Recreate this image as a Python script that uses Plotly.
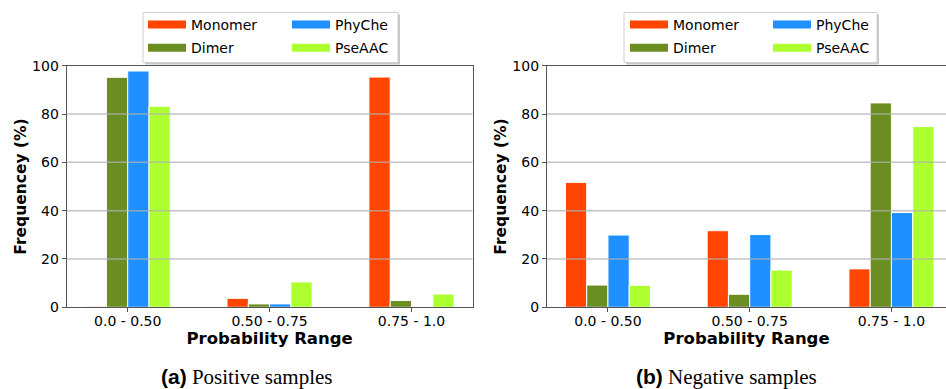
import plotly.graph_objects as go

# ---------------- data ----------------
categories = ["0.0 - 0.50", "0.50 - 0.75", "0.75 - 1.0"]
series_names = ["Monomer", "Dimer", "PhyChe", "PseAAC"]
series_colors = ["#FF4500", "#6B8E23", "#1E90FF", "#ADFF2F"]

pos_monomer = [0.4, 3.7, 95.3]
pos_dimer = [95.2, 1.4, 2.8]
pos_phyche = [97.8, 1.4, 0.0]
pos_pseaac = [83.2, 10.5, 5.5]

neg_monomer = [51.7, 31.7, 15.9]
neg_dimer = [9.2, 5.4, 84.6]
neg_phyche = [29.9, 30.1, 39.2]
neg_pseaac = [9.1, 15.4, 74.8]

y_ticks = [0, 20, 40, 60, 80, 100]
captions = ["Positive samples", "Negative samples"]
caption_tags = ["(a)", "(b)"]

positive = [pos_monomer, pos_dimer, pos_phyche, pos_pseaac]
negative = [neg_monomer, neg_dimer, neg_phyche, neg_pseaac]

# ---------------- figure ----------------
W, H = 946, 389
BAR_W = 0.15
TXT = "#000000"
SPINE = "#555555"
FONT = "DejaVu Sans"

fig = go.Figure()

# legend columns: (Monomer, Dimer) | (PhyChe, PseAAC)
panel_legends = [("legend", "legend", "legend2", "legend2"),
                 ("legend3", "legend3", "legend4", "legend4")]

for p, (panel, xa, ya) in enumerate([(positive, "x", "y"), (negative, "x2", "y2")]):
    for i, (name, col, vals) in enumerate(zip(series_names, series_colors, panel)):
        xs = [g + (i - 1.5) * BAR_W for g in range(len(categories))]
        fig.add_trace(go.Bar(
            x=xs, y=vals, width=BAR_W, name=name,
            marker=dict(color=col, line=dict(color="white", width=1)),
            xaxis=xa, yaxis=ya, showlegend=False, legendgroup=f"p{p}-{name}",
        ))
    # legend entries with wide swatches like the reference
    for i, (name, col) in enumerate(zip(series_names, series_colors)):
        fig.add_trace(go.Scatter(
            x=[None], y=[None], mode="lines", name=name,
            line=dict(color=col, width=8),
            xaxis=xa, yaxis=ya, legend=panel_legends[p][i],
            legendgroup=f"p{p}-{name}", showlegend=True, hoverinfo="skip",
        ))

ydom = [1 - 307.3 / H, 1 - 65.7 / H]
axis_common = dict(
    showline=True, linecolor=SPINE, linewidth=1.2,
    ticks="outside", ticklen=4, tickcolor=SPINE, tickwidth=1,
    tickfont=dict(family=FONT, size=14, color=TXT),
    showgrid=False, zeroline=False, automargin=False,
)
xtitle = dict(text="<b>Probability Range</b>", standoff=0,
              font=dict(family=FONT, size=16.5, color=TXT))
ytitle = dict(text="<b>Frequencey (%)</b>", standoff=1,
              font=dict(family=FONT, size=15.5, color=TXT))

fig.update_layout(
    xaxis=dict(domain=[66.7 / W, 472.5 / W], range=[-0.43, 2.43], mirror=True,
               tickvals=list(range(len(categories))), ticktext=categories,
               ticklabelstandoff=-3, title=xtitle, anchor="y", **axis_common),
    yaxis=dict(domain=ydom, range=[0, 100], mirror=True, tickvals=y_ticks,
               title=ytitle, anchor="x", **axis_common),
    xaxis2=dict(domain=[547 / W, 1.0], range=[-0.43, 2.385], mirror=True,
                tickvals=list(range(len(categories))), ticktext=categories,
                ticklabelstandoff=-3, title=xtitle, anchor="y2", **axis_common),
    yaxis2=dict(domain=ydom, range=[0, 100], mirror=False, tickvals=y_ticks,
                title=ytitle, anchor="x2", **axis_common),
    barmode="overlay",
    width=W, height=H,
    margin=dict(l=0, r=0, t=0, b=0),
    paper_bgcolor="white", plot_bgcolor="white",
    font=dict(family=FONT, color=TXT),
    template="none",
)

legend_common = dict(
    orientation="v", xanchor="left", yanchor="top",
    bgcolor="rgba(0,0,0,0)", borderwidth=0,
    font=dict(family=FONT, size=14, color=TXT), itemwidth=38,
    tracegroupgap=2, groupclick="toggleitem",
)
LEG_TOP = 1 - 9 / H
fig.update_layout(
    legend=dict(x=143 / W, y=LEG_TOP, **legend_common),
    legend2=dict(x=287 / W, y=LEG_TOP, **legend_common),
    legend3=dict(x=625 / W, y=LEG_TOP, **legend_common),
    legend4=dict(x=768 / W, y=LEG_TOP, **legend_common),
)

# legend frames (with a soft shadow, as in the reference)
for x0, x1 in [(143, 398), (624, 877)]:
    fig.add_shape(type="rect", xref="paper", yref="paper",
                  x0=(x0 + 2) / W, x1=(x1 + 2) / W, y0=1 - 64.5 / H, y1=1 - 14.5 / H,
                  fillcolor="rgba(0,0,0,0.22)", line=dict(width=0), layer="above")
    fig.add_shape(type="rect", xref="paper", yref="paper",
                  x0=x0 / W, x1=x1 / W, y0=1 - 62.5 / H, y1=1 - 12.5 / H,
                  fillcolor="white", line=dict(color="#d0d0d0", width=1), layer="above")

# gridlines drawn above the bars, as in the reference
for xr, yr in [("x domain", "y"), ("x2 domain", "y2")]:
    for t in y_ticks[1:-1]:
        fig.add_shape(type="line", xref=xr, yref=yr, x0=0, x1=1, y0=t, y1=t,
                      line=dict(color="rgba(176,176,176,0.75)", width=1.5),
                      layer="above")

# captions
for cx, tag, cap in zip([247 / W, 726 / W], caption_tags, captions):
    fig.add_annotation(
        x=cx, y=1 - 377 / H, xref="paper", yref="paper",
        xanchor="center", yanchor="middle", showarrow=False,
        text=f'<span style="font-family:Liberation Sans"><b>{tag}</b></span> {cap}',
        font=dict(family="Liberation Serif", size=21, color=TXT),
    )

fig.write_html("out.html",
               config={"displayModeBar": False},
               post_script="document.body.style.margin='0';"
                           "document.body.style.overflow='hidden';")
